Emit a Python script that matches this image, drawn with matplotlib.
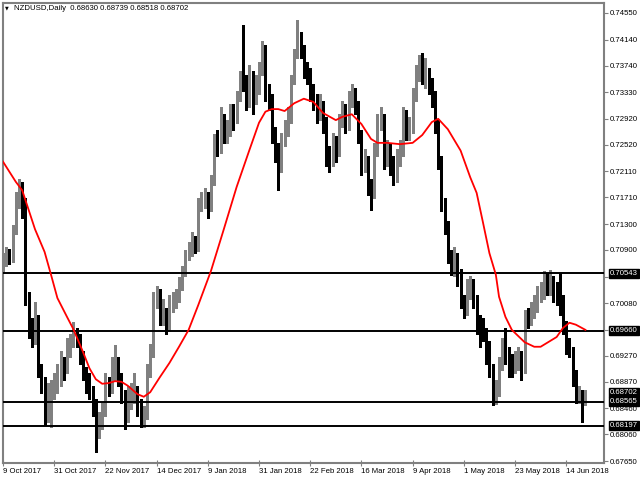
import matplotlib.pyplot as plt
import matplotlib.transforms as mtransforms

# daily NZDUSD bars, 9 Oct 2017 -> 22 Jun 2018
opens = [0.7065, 0.7072, 0.7082, 0.7078, 0.7121, 0.7167, 0.7175, 0.7159, 0.7013, 0.6967,
         0.6951, 0.6982, 0.6902, 0.6885, 0.6833, 0.6870, 0.6874, 0.6882, 0.6890, 0.6910,
         0.6908, 0.6941, 0.6947, 0.6962, 0.6956, 0.6925, 0.6901, 0.6890, 0.6871, 0.6851,
         0.6813, 0.6828, 0.6841, 0.6885, 0.6878, 0.6898, 0.6908, 0.6893, 0.6867, 0.6833,
         0.6859, 0.6864, 0.6871, 0.6851, 0.6833, 0.6836, 0.6905, 0.6931, 0.7018, 0.7024,
         0.6985, 0.6993, 0.6970, 0.7008, 0.7013, 0.7019, 0.7036, 0.7056, 0.7082, 0.7090,
         0.7105, 0.7093, 0.7162, 0.7167, 0.7172, 0.7159, 0.7195, 0.7259, 0.7249, 0.7295,
         0.7264, 0.7275, 0.7301, 0.7290, 0.7326, 0.7352, 0.7347, 0.7321, 0.7356, 0.7321,
         0.7336, 0.7367, 0.7398, 0.7332, 0.7321, 0.7267, 0.7244, 0.7221, 0.7259, 0.7275,
         0.7293, 0.7352, 0.7390, 0.7413, 0.7398, 0.7367, 0.7360, 0.7336, 0.7321, 0.7298,
         0.7313, 0.7290, 0.7236, 0.7229, 0.7259, 0.7244, 0.7290, 0.7306, 0.7283, 0.7321,
         0.7326, 0.7313, 0.7267, 0.7221, 0.7229, 0.7190, 0.7175, 0.7244, 0.7290, 0.7293,
         0.7229, 0.7244, 0.7221, 0.7206, 0.7229, 0.7244, 0.7298, 0.7275, 0.7278, 0.7329,
         0.7360, 0.7367, 0.7355, 0.7360, 0.7344, 0.7329, 0.7283, 0.7229, 0.7159, 0.7129,
         0.7082, 0.7067, 0.7078, 0.7052, 0.7013, 0.6995, 0.7028, 0.7036, 0.7013, 0.6975,
         0.6967, 0.6964, 0.6928, 0.6908, 0.6867, 0.6874, 0.6913, 0.6944, 0.6928, 0.6913,
         0.6908, 0.6918, 0.6925, 0.6905, 0.6990, 0.6985, 0.6990, 0.7005, 0.7024, 0.7025,
         0.7044, 0.7032, 0.7033, 0.7025, 0.7021, 0.7013, 0.6975, 0.6944, 0.6936, 0.6898,
         0.6862, 0.6864, 0.6863]
highs = [0.7085, 0.7095, 0.7092, 0.7128, 0.7180, 0.7200, 0.7195, 0.7170, 0.7025, 0.6985,
         0.7010, 0.6990, 0.6915, 0.6895, 0.6885, 0.6890, 0.6900, 0.6915, 0.6935, 0.6925,
         0.6955, 0.6960, 0.6979, 0.6970, 0.6960, 0.6935, 0.6910, 0.6900, 0.6880, 0.6860,
         0.6840, 0.6855, 0.6900, 0.6895, 0.6925, 0.6944, 0.6925, 0.6900, 0.6875, 0.6880,
         0.6885, 0.6900, 0.6880, 0.6860, 0.6850, 0.6915, 0.6945, 0.7025, 0.7035, 0.7030,
         0.7015, 0.7000, 0.7020, 0.7025, 0.7030, 0.7048, 0.7065, 0.7090, 0.7102, 0.7118,
         0.7112, 0.7170, 0.7180, 0.7185, 0.7180, 0.7205, 0.7268, 0.7275, 0.7310, 0.7300,
         0.7290, 0.7315, 0.7315, 0.7335, 0.7365, 0.7437, 0.7360, 0.7375, 0.7365, 0.7360,
         0.7380, 0.7412, 0.7405, 0.7345, 0.7330, 0.7280, 0.7255, 0.7270, 0.7290, 0.7310,
         0.7360, 0.7400, 0.7444, 0.7425, 0.7405, 0.7380, 0.7370, 0.7345, 0.7330, 0.7330,
         0.7320, 0.7295, 0.7250, 0.7270, 0.7265, 0.7300, 0.7320, 0.7315, 0.7335, 0.7345,
         0.7340, 0.7320, 0.7275, 0.7245, 0.7235, 0.7200, 0.7255, 0.7300, 0.7310, 0.7300,
         0.7260, 0.7255, 0.7235, 0.7245, 0.7260, 0.7310, 0.7305, 0.7295, 0.7340, 0.7375,
         0.7390, 0.7393, 0.7385, 0.7370, 0.7355, 0.7335, 0.7290, 0.7235, 0.7170, 0.7135,
         0.7090, 0.7095, 0.7085, 0.7060, 0.7020, 0.7045, 0.7050, 0.7045, 0.7020, 0.6990,
         0.6985, 0.6970, 0.6950, 0.6915, 0.6890, 0.6925, 0.6955, 0.6970, 0.6940, 0.6930,
         0.6935, 0.6940, 0.6935, 0.6998, 0.7000, 0.7010, 0.7020, 0.7035, 0.7040, 0.7057,
         0.7055, 0.7059, 0.7050, 0.7040, 0.7055, 0.7020, 0.6980, 0.6955, 0.6940, 0.6905,
         0.6880, 0.6875, 0.68739]
lows = [0.7058, 0.7065, 0.7068, 0.7072, 0.7115, 0.7155, 0.7140, 0.7005, 0.6955, 0.6940,
        0.6945, 0.6895, 0.6870, 0.6820, 0.6825, 0.6817, 0.6860, 0.6870, 0.6880, 0.6890,
        0.6900, 0.6925, 0.6940, 0.6940, 0.6915, 0.6890, 0.6870, 0.6860, 0.6835, 0.6779,
        0.6800, 0.6815, 0.6835, 0.6865, 0.6870, 0.6890, 0.6880, 0.6855, 0.6815, 0.6825,
        0.6845, 0.6855, 0.6835, 0.6818, 0.6817, 0.6830, 0.6895, 0.6925, 0.7000, 0.6975,
        0.6975, 0.6960, 0.6965, 0.6995, 0.7000, 0.7010, 0.7028, 0.7050, 0.7075, 0.7080,
        0.7085, 0.7088, 0.7150, 0.7155, 0.7140, 0.7150, 0.7190, 0.7235, 0.7240, 0.7255,
        0.7255, 0.7265, 0.7275, 0.7285, 0.7320, 0.7335, 0.7305, 0.7310, 0.7300, 0.7315,
        0.7330, 0.7360, 0.7320, 0.7305, 0.7255, 0.7225, 0.7182, 0.7210, 0.7250, 0.7265,
        0.7285, 0.7345, 0.7385, 0.7385, 0.7355, 0.7345, 0.7320, 0.7305, 0.7285, 0.7290,
        0.7270, 0.7220, 0.7210, 0.7220, 0.7225, 0.7235, 0.7280, 0.7270, 0.7275, 0.7310,
        0.7300, 0.7255, 0.7205, 0.7210, 0.7175, 0.7152, 0.7170, 0.7235, 0.7275, 0.7215,
        0.7220, 0.7205, 0.7190, 0.7195, 0.7220, 0.7235, 0.7260, 0.7260, 0.7270, 0.7320,
        0.7350, 0.7345, 0.7340, 0.7330, 0.7310, 0.7270, 0.7215, 0.7150, 0.7115, 0.7070,
        0.7052, 0.7050, 0.7035, 0.7000, 0.6985, 0.6990, 0.7015, 0.7000, 0.6960, 0.6940,
        0.6950, 0.6915, 0.6895, 0.6852, 0.6853, 0.6865, 0.6905, 0.6915, 0.6895, 0.6895,
        0.6900, 0.6905, 0.6890, 0.6900, 0.6970, 0.6975, 0.6985, 0.6995, 0.7010, 0.7015,
        0.7020, 0.7020, 0.7010, 0.7005, 0.6990, 0.6960, 0.6930, 0.6925, 0.6880, 0.6855,
        0.6855, 0.6825, 0.68518]
closes = [0.7072, 0.7082, 0.7078, 0.7121, 0.7167, 0.7175, 0.7159, 0.7013, 0.6967, 0.6951,
          0.6982, 0.6902, 0.6885, 0.6833, 0.6870, 0.6874, 0.6882, 0.6890, 0.6910, 0.6908,
          0.6941, 0.6947, 0.6962, 0.6956, 0.6925, 0.6901, 0.6890, 0.6871, 0.6851, 0.6813,
          0.6828, 0.6841, 0.6885, 0.6878, 0.6898, 0.6908, 0.6893, 0.6867, 0.6833, 0.6859,
          0.6864, 0.6871, 0.6851, 0.6833, 0.6836, 0.6905, 0.6931, 0.7018, 0.7024, 0.6985,
          0.6993, 0.6970, 0.7008, 0.7013, 0.7019, 0.7036, 0.7056, 0.7082, 0.7090, 0.7105,
          0.7093, 0.7162, 0.7167, 0.7172, 0.7159, 0.7195, 0.7259, 0.7249, 0.7295, 0.7264,
          0.7275, 0.7301, 0.7290, 0.7326, 0.7352, 0.7347, 0.7321, 0.7356, 0.7321, 0.7336,
          0.7367, 0.7398, 0.7332, 0.7321, 0.7267, 0.7244, 0.7221, 0.7259, 0.7275, 0.7293,
          0.7352, 0.7390, 0.7413, 0.7398, 0.7367, 0.7360, 0.7336, 0.7321, 0.7298, 0.7313,
          0.7290, 0.7236, 0.7229, 0.7259, 0.7244, 0.7290, 0.7306, 0.7283, 0.7321, 0.7326,
          0.7313, 0.7267, 0.7221, 0.7229, 0.7190, 0.7175, 0.7244, 0.7290, 0.7293, 0.7229,
          0.7244, 0.7221, 0.7206, 0.7229, 0.7244, 0.7298, 0.7275, 0.7278, 0.7329, 0.7360,
          0.7367, 0.7355, 0.7360, 0.7344, 0.7329, 0.7283, 0.7229, 0.7159, 0.7129, 0.7082,
          0.7067, 0.7078, 0.7052, 0.7013, 0.6995, 0.7028, 0.7036, 0.7013, 0.6975, 0.6967,
          0.6964, 0.6928, 0.6908, 0.6867, 0.6874, 0.6913, 0.6944, 0.6928, 0.6913, 0.6908,
          0.6918, 0.6925, 0.6905, 0.6990, 0.6985, 0.6990, 0.7005, 0.7024, 0.7025, 0.7044,
          0.7032, 0.7033, 0.7025, 0.7021, 0.7013, 0.6975, 0.6944, 0.6936, 0.6898, 0.6862,
          0.6864, 0.6863, 0.68702]

# moving average (red), sampled at these bars
ma_bars = [0, 4, 6, 8, 10, 13, 15, 17, 20, 22, 25, 27, 29, 31, 33, 35, 37, 39, 42, 44,
           46, 49, 52, 55, 58, 61, 65, 69, 73, 77, 80, 82, 84, 86, 88, 91, 94, 97, 100, 104,
           106, 109, 112, 115, 117, 120, 124, 128, 131, 134, 136, 139, 143, 146, 148, 150,
           152, 154, 155, 157, 159, 163, 166, 168, 170, 173, 175, 177, 179, 182]
ma_values = [0.7226, 0.7195, 0.7182, 0.7152, 0.7122, 0.7087, 0.7052, 0.7016, 0.6987, 0.6968,
             0.6933, 0.6908, 0.6891, 0.6884, 0.6885, 0.6888, 0.6887, 0.6881, 0.6868, 0.6864,
             0.6871, 0.6894, 0.6916, 0.6941, 0.6967, 0.7005, 0.7058, 0.7122, 0.7187, 0.7244,
             0.7286, 0.7303, 0.7307, 0.7307, 0.7304, 0.7316, 0.7323, 0.7318, 0.7301, 0.7290,
             0.7295, 0.7299, 0.7284, 0.7261, 0.7255, 0.7255, 0.7253, 0.7255, 0.7267, 0.7287,
             0.7292, 0.7276, 0.7243, 0.7202, 0.7178, 0.7132, 0.7085, 0.7052, 0.7018, 0.6987,
             0.6967, 0.6948, 0.6941, 0.6941, 0.6947, 0.6956, 0.6970, 0.6978, 0.6975, 0.6967]

levels = [0.70543, 0.69660, 0.68197]
last_price = 0.68702
low_level = 0.68565

y_ticks = [0.74550, 0.74140, 0.73740, 0.73330, 0.72920, 0.72520, 0.72110, 0.71710, 0.71300,
           0.70900, 0.70490, 0.70080, 0.69670, 0.69270, 0.68870, 0.68460, 0.68060, 0.67650]
x_tick_bars = [0, 16, 32, 48, 64, 80, 96, 112, 128, 144, 160, 176]
x_tick_labels = ['9 Oct 2017', '31 Oct 2017', '22 Nov 2017', '14 Dec 2017', '9 Jan 2018',
                 '31 Jan 2018', '22 Feb 2018', '16 Mar 2018', '9 Apr 2018', '1 May 2018',
                 '23 May 2018', '14 Jun 2018']

FONT = 'Liberation Sans'
FS = 5.6

fig = plt.figure(figsize=(6.4, 4.8), dpi=100)
ax = fig.add_axes([3 / 640, 17 / 480, 601 / 640, 460 / 480])

# candles
idx = list(range(len(closes)))
cols = ['#808080' if c >= o else 'black' for o, c in zip(opens, closes)]
ax.vlines(idx, lows, highs, colors=cols, lw=1, zorder=2, antialiased=False)
bottoms = [min(o, c) for o, c in zip(opens, closes)]
heights = [max(abs(c - o), 0.00005) for o, c in zip(opens, closes)]
ax.bar(idx, heights, bottom=bottoms, width=0.6, color=cols, lw=0, zorder=3,
       antialiased=False)

# support / resistance lines and MA
for lv in levels + [low_level]:
    ax.axhline(lv, color='black', lw=1.4, zorder=4)
ax.plot(ma_bars, ma_values, color='red', lw=1.3, zorder=5)

ax.set_xlim(0, 187.8)
ax.set_ylim(0.676198, 0.747038)

ax.yaxis.tick_right()
ax.set_yticks(y_ticks)
ax.set_yticklabels(['%.5f' % v for v in y_ticks], fontfamily=FONT, fontsize=FS)
ax.set_xticks(x_tick_bars)
ax.set_xticklabels(x_tick_labels, fontfamily=FONT, fontsize=FS, ha='left')
ax.tick_params(axis='y', direction='out', length=3, width=0.8, color='#808080', pad=1.5)
ax.tick_params(axis='x', direction='inout', length=5, width=0.8, color='#808080', pad=1)
for sp in ax.spines.values():
    sp.set_color('#808080')
    sp.set_linewidth(1.5)

# price boxes on the right scale
trans = mtransforms.blended_transform_factory(ax.transAxes, ax.transData)
for lv in levels + [last_price, low_level]:
    ax.text(1.0 + 6 / 601, lv, '%.5f' % lv, transform=trans, color='white',
            fontfamily=FONT, fontsize=FS, va='center', ha='left', clip_on=False,
            bbox=dict(boxstyle='square,pad=0.12', fc='black', ec='black'), zorder=10)

fig.text(5 / 640, 1 - 8 / 480, '\u25bc', fontsize=3.5, va='center', ha='left')
fig.text(14 / 640, 1 - 8 / 480, 'NZDUSD,Daily  0.68630 0.68739 0.68518 0.68702',
         fontfamily=FONT, fontsize=FS, va='center', ha='left')

fig.savefig('out.png', dpi=100)
